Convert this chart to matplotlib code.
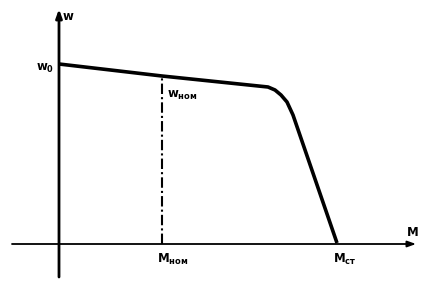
import matplotlib.pyplot as plt

# механическая характеристика (условные единицы)
M = [0, 103, 209, 216, 222, 228, 234, 278]
w = [180, 168, 157, 154, 149, 142, 129, 1]
M_nom = 103
w_nom = 168
M_st = 278

plt.rcParams['font.family'] = ['DejaVu Sans']
plt.rcParams['mathtext.fontset'] = 'dejavusans'

fig = plt.figure(figsize=(4.24, 2.83), dpi=100)
ax = fig.add_axes([0, 0, 1, 1])
ax.set_xlim(-59, 365)
ax.set_ylim(-39, 244)
ax.axis('off')

# оси
ax.annotate('', xy=(357, 0), xytext=(-47, 0),
            arrowprops=dict(arrowstyle='-|>,head_length=0.5,head_width=0.18',
                            color='k', lw=1.3, shrinkA=0, shrinkB=0))
ax.annotate('', xy=(0, 235), xytext=(0, -33),
            arrowprops=dict(arrowstyle='-|>,head_length=0.5,head_width=0.18',
                            color='k', lw=2, shrinkA=0, shrinkB=0))

# характеристика
ax.plot(M, w, color='k', lw=2.6, solid_capstyle='butt')
ax.plot([M_nom, M_nom], [0, w_nom], color='k', lw=1.5,
        linestyle=(0, (5, 1.5, 1, 1.5)))

fs = 8.5
ax.text(3, 228, r'$\mathbf{w}$', fontsize=fs, va='center', ha='left')
ax.text(-5, 176, r'$\mathbf{w}_{\mathbf{0}}$', fontsize=fs, va='center', ha='right')
ax.text(M_nom + 5, 149, r'$\mathbf{w}_{\mathbf{ном}}$', fontsize=fs, va='center', ha='left')
ax.text(M_nom - 5, -15, r'$\mathbf{M}_{\mathbf{ном}}$', fontsize=fs, va='center', ha='left')
ax.text(M_st - 4, -15, r'$\mathbf{M}_{\mathbf{ст}}$', fontsize=fs, va='center', ha='left')
ax.text(347, 12, r'$\mathbf{M}$', fontsize=fs, va='center', ha='left')

fig.savefig('out.png', dpi=100, facecolor='white')
